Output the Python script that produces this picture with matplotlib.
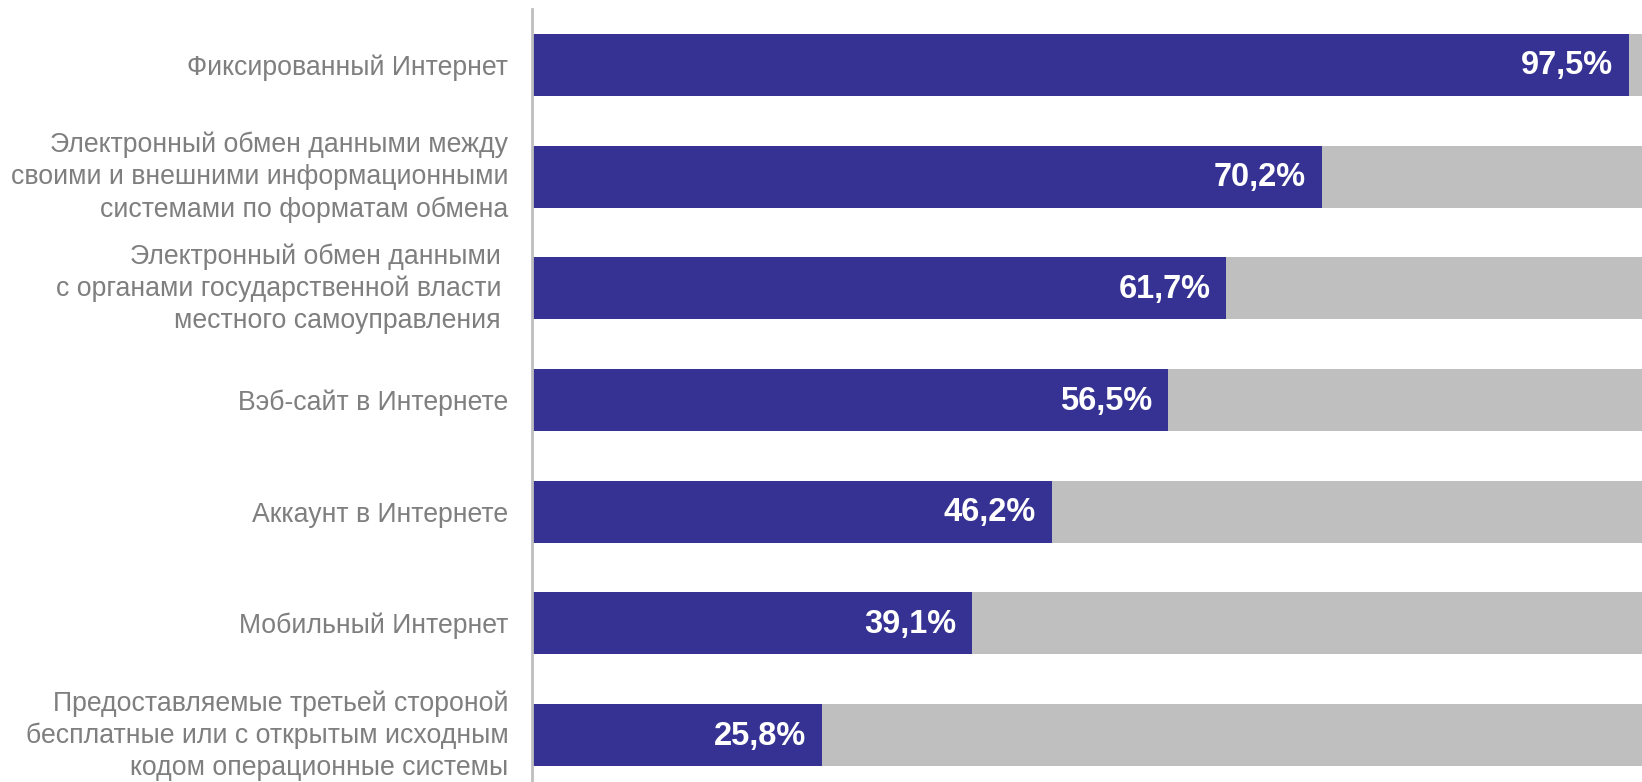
import matplotlib.pyplot as plt
import numpy as np

categories = [
    'Фиксированный Интернет',
    'Электронный обмен данными между\nсвоими и внешними информационными\nсистемами по форматам обмена',
    'Электронный обмен данными \nс органами государственной власти \nместного самоуправления ',
    'Вэб-сайт в Интернете',
    'Аккаунт в Интернете',
    'Мобильный Интернет',
    'Предоставляемые третьей стороной\nбесплатные или с открытым исходным\nкодом операционные системы',
]
values = [97.5, 70.2, 61.7, 56.5, 46.2, 39.1, 25.8]
total = [100] * len(values)

plt.rcParams['font.family'] = ['Liberation Sans', 'DejaVu Sans']

fig = plt.figure(figsize=(16.42, 7.82), dpi=100)
ax = fig.add_axes([0.324, -0.0115, 0.676, 1.0])

y = np.arange(len(categories))
ax.barh(y, total, height=0.555, color='#bfbfbf')
ax.barh(y, values, height=0.555, color='#353293')

for yi, v in zip(y, values):
    ax.text(v - 1.4, yi + 0.01, f'{v:.1f}%'.replace('.', ','), ha='right', va='center',
            color='white', fontsize=23.5, fontweight='bold')

# category labels left of the axis line, last baseline placed below bar centre
for yi, lab in zip(y, categories):
    n = lab.count('\n') + 1
    drop_px = 10 + (n - 1) * 15
    ax.annotate(lab, xy=(0, yi), xytext=(-17, -drop_px * 0.72), textcoords='offset points',
                ha='right', va='baseline', fontsize=19.2, color='#7f7f7f',
                linespacing=1.3, annotation_clip=False)

ax.set_xlim(0, 98.67)
ax.set_ylim(6.5, -0.5)
ax.set_yticks([])
ax.set_xticks([])
for s in ['top', 'right', 'bottom']:
    ax.spines[s].set_visible(False)
ax.spines['left'].set_color('#bfbfbf')
ax.spines['left'].set_linewidth(2)

fig.savefig('out.png', dpi=100)
